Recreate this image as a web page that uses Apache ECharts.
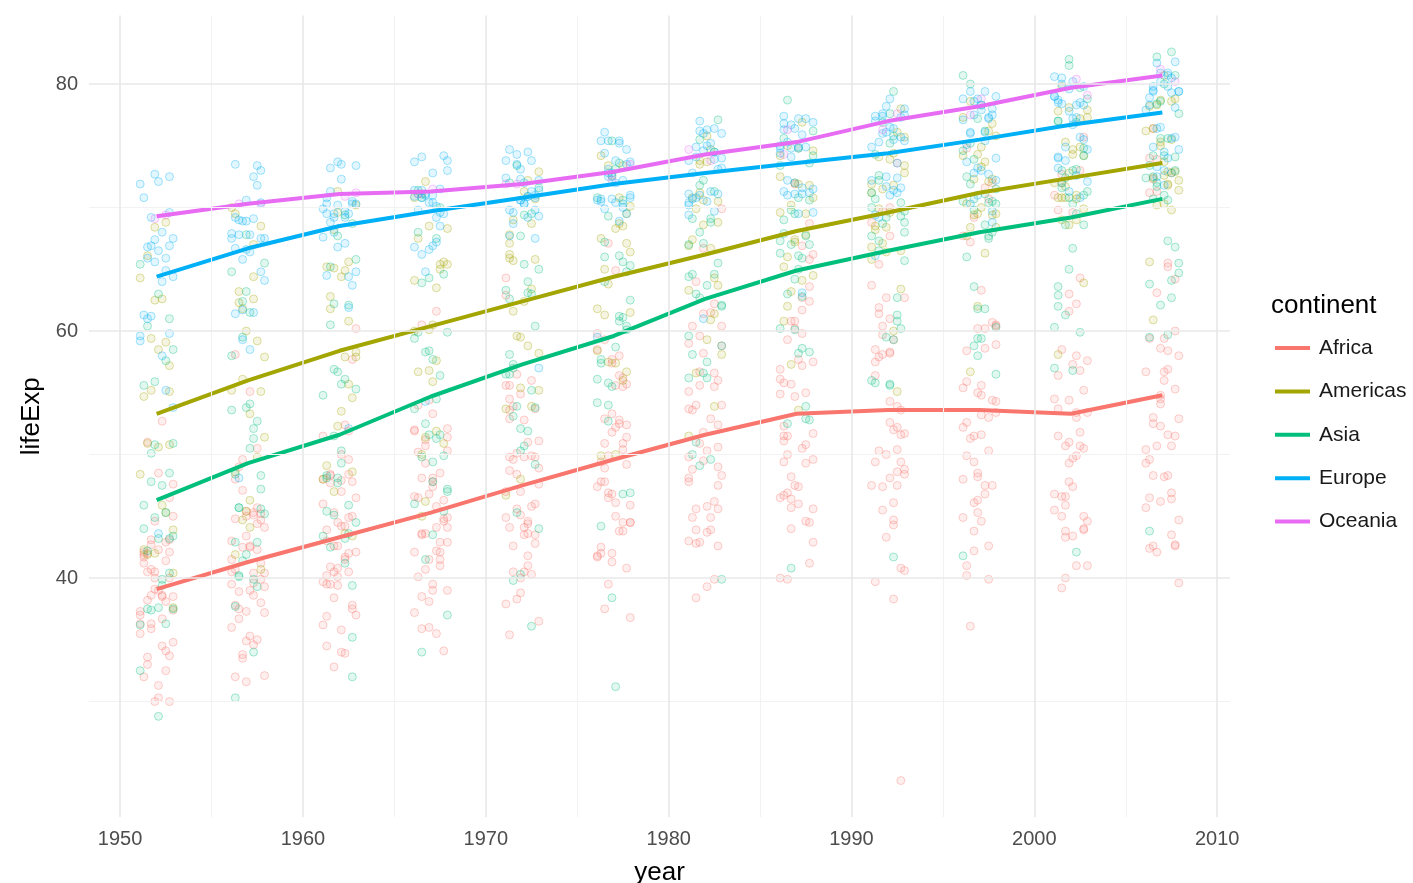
<!DOCTYPE html>
<html><head><meta charset="utf-8">
<script src="https://cdn.jsdelivr.net/npm/echarts@6/dist/echarts.min.js"></script>
<style>html,body{margin:0;padding:0;background:#fff}#chart{width:1413px;height:883px}</style>
</head><body><div id="chart"></div>
<script>
const years = [1952,1957,1962,1967,1972,1977,1982,1987,1992,1997,2002,2007];
const continents = ['Africa','Americas','Asia','Europe','Oceania'];
const xMajorTicks = [1950,1960,1970,1980,1990,2000,2010];
const xMinorTicks = [1955,1965,1975,1985,1995,2005];
const yMajorTicks = [40,60,80];
const yMinorTicks = [30,50,70];

// mean life expectancy per continent per year (lines)
const africaMean   = [39.1,41.3,43.3,45.3,47.5,49.6,51.6,53.3,53.6,53.6,53.3,54.8];
const americasMean = [53.3,56.0,58.4,60.4,62.4,64.4,66.2,68.1,69.6,71.2,72.4,73.6];
const asiaMean     = [46.3,49.3,51.6,54.7,57.3,59.6,62.6,64.9,66.5,68.0,69.2,70.7];
const europeMean   = [64.4,66.7,68.5,69.7,70.8,71.9,72.8,73.6,74.4,75.5,76.7,77.7];
const oceaniaMean  = [69.3,70.3,71.1,71.3,71.9,72.9,74.3,75.3,77.0,78.2,79.7,80.7];

// country life expectancy, one row per country, one column per year
const africaLife = [
[43.1,45.7,48.3,51.4,54.5,58.0,61.4,65.8,67.7,69.2,71.0,72.3],
[30.0,32.0,34.0,36.0,37.9,39.5,39.9,39.9,40.6,41.0,41.0,42.7],
[38.2,40.4,42.6,44.9,47.0,49.2,50.9,52.3,53.9,54.8,54.4,56.7],
[47.6,49.6,51.5,53.3,56.0,59.3,61.5,63.6,62.7,52.6,46.6,50.7],
[32.0,34.9,37.8,40.7,43.6,46.1,48.1,49.6,50.3,50.3,50.7,52.3],
[39.0,40.5,42.0,43.5,44.1,45.9,47.5,48.2,44.7,45.3,47.4,49.6],
[38.5,40.4,42.6,44.8,47.0,49.4,54.0,55.0,54.3,52.2,49.9,50.4],
[35.5,37.5,39.5,41.5,43.5,46.8,48.3,50.5,49.4,46.1,43.3,44.7],
[38.1,39.9,41.7,43.6,45.6,47.4,49.5,51.1,51.7,51.6,50.5,50.7],
[40.7,42.5,44.5,46.5,48.9,50.9,52.9,54.9,57.9,60.7,63.0,65.2],
[39.1,40.7,42.1,44.1,46.0,47.8,47.8,47.4,45.5,42.6,45.0,46.5],
[42.1,45.1,48.4,52.0,54.9,55.6,56.7,57.5,56.4,53.0,53.0,55.3],
[40.5,42.5,44.9,47.4,49.8,52.4,54.0,54.7,52.0,48.0,46.8,48.3],
[34.8,37.3,39.7,42.1,44.4,46.5,48.8,50.0,51.6,53.2,53.4,54.8],
[41.9,44.4,47.0,49.3,51.1,53.3,56.0,59.8,63.7,67.2,69.8,71.3],
[34.5,36.0,37.5,39.0,40.5,42.0,43.7,45.7,47.5,48.2,49.3,51.6],
[35.9,38.0,40.2,42.2,44.1,44.5,43.9,46.5,50.0,53.4,55.2,58.0],
[34.1,36.7,40.1,42.1,43.5,44.5,44.9,46.7,48.1,49.4,50.7,53.0],
[37.0,39.0,40.5,44.6,48.7,52.8,56.6,60.2,61.4,60.5,56.8,56.7],
[30.0,32.1,33.9,35.9,38.3,41.8,45.6,49.3,52.6,55.9,58.0,59.4],
[43.1,44.8,46.5,48.1,49.9,51.8,53.7,55.7,57.5,58.6,58.5,60.0],
[33.6,34.6,35.8,37.2,38.8,40.8,42.9,45.6,48.6,51.5,53.7,56.0],
[32.5,33.5,34.5,35.5,36.5,37.5,39.3,41.2,43.3,44.9,45.5,46.4],
[42.3,44.7,48.0,50.7,53.6,56.2,58.8,59.3,59.3,54.4,51.0,54.1],
[42.1,45.0,47.7,48.5,49.8,52.2,55.1,57.2,59.7,55.6,44.6,42.6],
[38.5,39.5,40.5,41.5,42.6,43.8,44.9,46.0,40.8,42.2,43.8,45.7],
[42.7,45.3,47.8,50.2,52.8,57.4,62.2,66.2,68.8,71.6,72.7,74.0],
[36.7,38.9,40.8,42.9,44.9,46.9,49.0,49.4,52.2,55.0,57.3,59.4],
[36.3,37.2,38.4,39.5,41.8,43.8,45.6,47.5,49.4,47.5,45.0,48.3],
[33.7,35.3,36.9,38.5,40.0,41.7,43.9,46.4,48.4,49.9,51.8,54.5],
[40.5,42.3,44.2,46.3,48.4,50.9,53.6,56.1,58.3,60.4,62.2,64.2],
[51.0,58.1,60.2,61.6,62.9,64.9,66.7,68.7,69.7,70.7,72.0,72.8],
[42.9,45.4,47.9,50.3,52.9,55.7,59.6,62.7,65.4,67.7,69.6,71.2],
[31.3,33.8,36.2,38.1,40.3,42.5,42.8,42.9,44.3,46.3,44.0,42.1],
[41.7,45.2,48.4,51.2,53.9,56.4,59.0,60.8,61.0,58.9,51.5,52.9],
[37.4,38.6,39.5,40.1,40.5,41.3,42.6,44.6,47.4,51.3,54.5,56.9],
[36.3,37.8,39.4,41.0,42.8,44.5,45.8,46.9,47.5,47.5,46.6,46.9],
[52.7,55.1,57.7,60.5,64.3,67.1,69.9,71.9,73.6,74.8,75.7,76.4],
[40.0,41.5,43.0,44.1,44.6,45.0,46.2,44.0,23.6,36.1,43.4,46.2],
[46.5,49.0,51.9,54.4,56.5,58.5,60.4,61.7,62.7,63.3,64.3,65.5],
[37.3,39.3,41.5,43.6,45.8,48.9,52.4,55.8,58.2,60.2,61.6,63.1],
[30.3,31.6,32.8,34.1,35.4,36.8,38.4,40.0,38.3,39.9,41.0,42.6],
[33.0,35.0,37.0,39.0,41.0,42.0,43.0,44.5,39.7,43.8,45.9,48.2],
[45.0,48.0,50.0,51.9,53.7,55.5,58.2,60.8,61.9,60.2,53.4,49.3],
[38.6,39.6,40.9,42.9,45.1,47.8,50.3,51.7,53.6,55.4,56.4,58.6],
[41.4,43.4,45.0,46.6,49.6,52.5,55.6,57.7,58.5,54.3,43.9,39.6],
[41.2,43.0,44.2,45.8,47.6,49.9,50.6,51.5,50.4,48.5,49.7,52.5],
[38.6,41.2,43.9,46.8,49.8,52.9,55.5,56.9,58.1,58.4,57.6,58.4],
[44.6,47.1,49.6,52.1,55.6,59.8,64.0,66.9,70.0,72.0,73.0,73.9],
[40.0,42.6,45.3,48.1,51.0,50.4,49.8,51.5,48.8,44.6,47.8,51.5],
[42.0,44.1,46.0,47.8,50.1,51.4,51.8,50.8,46.1,40.2,39.2,42.4],
[48.5,50.5,52.4,54.0,55.6,57.7,60.4,62.4,60.4,46.8,40.0,43.5]
];
const americasLife = [
[62.5,64.4,65.1,65.6,67.1,68.5,69.9,70.8,71.9,73.3,74.3,75.3],
[40.4,41.9,43.4,45.0,46.7,50.0,53.9,57.3,60.0,62.0,63.9,65.6],
[50.9,53.3,55.7,57.6,59.5,61.5,63.3,65.2,67.1,69.4,71.0,72.4],
[68.8,70.0,71.3,72.1,72.9,74.2,75.8,76.9,78.0,78.6,79.8,80.7],
[54.7,56.1,57.9,60.5,63.4,67.1,70.6,72.5,74.1,75.8,77.9,78.6],
[50.6,55.1,57.9,60.0,61.6,63.8,66.7,67.8,68.4,70.3,71.7,72.9],
[57.2,60.0,62.8,65.4,67.8,70.8,73.5,74.8,75.7,77.3,78.1,78.8],
[59.4,62.3,65.2,68.3,70.7,72.6,73.7,74.2,74.4,76.2,77.2,78.3],
[45.9,49.8,53.5,56.8,59.6,61.8,63.7,66.0,68.5,70.0,70.8,72.2],
[48.4,51.4,54.6,56.7,58.8,61.3,64.3,67.2,69.6,72.3,74.2,75.0],
[45.3,48.6,52.3,55.9,58.2,56.7,56.6,63.2,66.8,69.5,70.7,71.9],
[42.0,44.1,47.0,50.0,53.7,56.0,58.1,60.8,63.4,66.3,69.0,70.3],
[37.6,40.7,43.6,46.2,48.0,49.9,51.5,53.6,55.1,56.7,58.1,60.9],
[41.9,44.7,48.0,50.9,53.9,57.4,60.9,64.5,66.4,67.7,68.6,70.2],
[58.5,62.6,65.6,67.5,69.0,70.1,71.2,71.8,71.8,72.3,72.0,72.6],
[50.8,55.2,58.3,60.1,62.4,65.0,67.4,69.5,71.5,73.7,74.9,76.2],
[42.3,45.4,48.6,51.9,55.2,57.5,59.3,62.0,65.8,68.4,70.8,72.9],
[55.2,59.2,61.8,64.1,66.2,68.7,70.5,72.0,73.4,74.3,74.7,75.5],
[62.6,63.2,64.4,65.0,65.8,66.4,66.9,67.4,68.2,69.4,70.8,71.8],
[43.9,46.3,49.1,51.4,55.4,58.4,61.4,64.1,66.5,68.4,69.9,71.4],
[64.3,68.5,69.6,71.1,72.2,73.4,73.8,74.6,73.9,74.9,77.8,78.7],
[59.1,61.8,64.9,65.4,65.9,68.3,68.8,69.6,69.9,69.5,69.0,69.8],
[68.4,69.5,70.2,70.8,71.3,73.4,74.7,75.0,76.1,76.8,77.3,78.2],
[66.1,67.0,68.2,68.5,68.7,69.5,70.8,71.9,72.8,74.2,75.3,76.4],
[55.1,57.9,60.8,63.5,65.7,67.5,68.6,70.2,71.2,72.1,72.8,73.7]
];
const asiaLife = [
[28.8,30.3,32.0,34.0,36.1,38.4,39.9,40.8,41.7,41.8,42.1,43.8],
[50.9,53.8,56.9,59.9,63.3,65.6,69.1,70.8,72.6,73.9,74.8,75.6],
[37.5,39.3,41.2,43.5,45.3,46.9,50.0,52.8,56.0,59.4,62.0,64.1],
[39.4,41.4,43.4,45.4,40.3,31.2,51.0,53.9,55.8,56.5,56.8,59.7],
[44.0,50.5,44.5,58.4,63.1,64.0,65.5,67.3,68.7,70.4,72.0,73.0],
[61.0,64.8,67.7,70.0,72.0,73.6,75.5,76.2,77.6,80.0,81.5,82.2],
[37.4,40.2,43.6,47.2,50.7,54.2,56.6,58.6,60.2,61.8,62.9,64.7],
[37.5,39.9,42.5,46.0,49.2,52.7,56.2,60.1,62.7,66.0,68.6,70.7],
[44.9,47.2,49.3,52.5,55.2,57.7,59.6,63.0,65.7,68.0,69.5,71.0],
[45.3,48.4,51.5,54.5,57.0,60.4,62.0,65.0,59.5,58.8,57.0,59.5],
[65.4,67.8,69.4,70.8,71.6,73.1,74.5,75.6,76.9,78.3,79.7,80.7],
[63.0,65.5,68.7,71.4,73.4,75.4,77.1,78.7,79.4,80.7,82.0,82.6],
[43.2,45.7,48.1,51.6,56.5,61.1,63.7,65.9,68.0,69.8,71.3,72.5],
[50.1,54.1,56.7,59.9,64.0,67.2,69.1,70.6,70.0,67.7,66.7,67.3],
[47.5,52.7,55.3,57.7,62.6,64.8,67.1,69.8,72.2,74.6,77.0,78.6],
[55.6,58.0,60.5,64.6,67.7,69.3,71.3,74.2,75.2,76.2,76.9,77.6],
[55.9,59.5,62.1,63.9,65.4,66.1,67.0,67.9,69.3,70.3,71.0,72.0],
[48.5,52.1,55.7,59.4,63.0,65.3,68.0,69.5,70.7,71.9,73.0,74.2],
[42.2,45.2,48.3,51.3,53.8,55.5,57.5,60.2,61.3,63.6,65.0,66.8],
[36.3,41.9,45.1,49.4,53.1,56.1,58.1,58.3,59.3,60.3,59.9,62.1],
[36.2,37.7,39.4,41.5,44.0,46.8,49.6,52.5,55.7,59.4,61.3,63.8],
[37.6,40.1,43.2,47.0,52.1,57.4,62.7,67.7,71.2,72.5,74.2,75.6],
[43.4,45.6,47.7,49.8,51.9,54.0,56.2,58.2,60.8,61.8,63.6,65.5],
[47.8,51.3,54.8,56.4,58.1,60.1,62.1,64.2,66.5,68.6,70.3,71.7],
[39.9,42.9,45.9,49.9,53.9,58.7,63.0,66.3,68.8,70.5,71.6,72.8],
[60.4,63.2,65.8,68.0,69.5,70.8,71.8,73.6,75.8,77.2,78.8,80.0],
[57.6,61.5,62.2,64.3,65.0,66.0,68.8,69.0,70.4,70.5,70.8,72.4],
[45.9,48.3,50.3,53.7,57.3,61.2,64.6,67.0,69.2,71.5,73.1,74.1],
[58.5,62.4,65.2,67.5,69.4,70.6,72.2,73.4,74.3,75.2,77.0,78.4],
[50.8,53.6,56.1,58.3,60.4,62.5,64.6,66.1,67.3,67.5,68.6,70.6],
[40.4,42.9,45.4,47.8,50.3,55.8,58.8,62.8,67.7,70.7,73.0,74.2],
[43.2,45.7,48.1,51.6,56.5,60.8,64.4,67.0,69.7,71.1,72.4,73.4],
[32.5,34.0,35.2,37.0,39.8,44.2,49.1,52.9,55.6,58.0,60.3,62.7]
];
const europeLife = [
[55.2,59.3,64.8,66.2,67.7,68.9,70.4,72.0,71.6,73.0,75.7,76.4],
[66.8,67.5,69.5,70.1,70.6,72.2,73.2,74.9,76.0,77.5,79.0,79.8],
[68.0,69.2,70.2,70.9,71.4,72.8,73.9,75.3,76.5,77.5,78.3,79.4],
[53.8,58.5,61.9,64.8,67.5,69.9,70.7,71.1,72.2,73.2,74.1,74.9],
[59.6,66.6,69.5,70.4,70.9,70.8,71.1,71.3,71.2,70.3,72.1,73.0],
[61.2,64.8,67.1,68.5,69.6,70.6,70.5,71.5,72.5,73.7,74.9,75.7],
[66.9,69.0,69.9,70.4,70.3,70.7,71.0,71.6,72.4,74.0,75.5,76.5],
[70.8,71.8,72.3,73.0,73.5,74.7,74.6,74.8,75.3,76.1,77.2,78.3],
[66.5,67.5,68.8,69.8,70.9,72.5,74.5,74.8,75.7,77.1,78.4,79.3],
[67.4,68.9,70.5,71.5,72.4,73.8,74.9,76.3,77.5,78.6,79.6,80.7],
[67.5,69.1,70.3,70.8,71.0,72.5,73.8,74.8,76.1,77.3,78.7,79.4],
[65.9,67.9,69.5,71.0,72.3,73.7,75.2,76.7,77.0,77.9,78.3,79.5],
[64.0,66.4,68.0,69.5,69.8,70.0,69.4,69.6,69.2,71.0,72.6,73.3],
[72.5,73.5,73.7,73.7,74.5,76.1,77.0,77.2,78.8,79.0,80.5,81.8],
[66.9,68.9,70.3,71.1,71.3,72.0,73.1,74.4,75.5,76.1,77.8,78.9],
[65.9,67.8,69.2,71.1,72.2,73.5,75.0,76.4,77.4,78.8,80.2,80.5],
[59.2,61.4,63.7,67.2,70.6,73.1,74.1,74.9,75.4,75.4,74.0,74.5],
[72.1,73.0,73.2,73.8,73.8,75.2,76.0,76.8,77.4,78.0,78.5,79.8],
[72.7,73.4,73.5,74.1,74.3,75.4,76.0,75.9,77.3,78.3,79.0,80.2],
[61.3,65.8,67.6,69.6,70.8,70.7,71.3,71.0,71.0,72.8,74.7,75.6],
[59.8,61.5,64.4,66.6,69.3,70.4,72.8,74.1,74.9,76.0,77.3,78.1],
[61.0,64.1,66.8,66.8,69.2,69.5,69.7,69.5,69.4,69.7,71.3,72.5],
[58.0,61.7,64.5,66.9,68.7,70.3,70.2,71.2,71.7,72.2,73.2,74.0],
[64.4,67.5,70.3,71.0,70.3,70.5,70.8,71.1,71.4,72.7,73.8,74.7],
[65.6,67.8,69.2,69.2,69.8,71.0,71.1,72.2,73.6,75.1,76.7,77.9],
[64.9,66.7,69.7,71.4,73.1,74.4,76.3,76.9,77.6,78.8,79.8,80.9],
[71.9,72.5,73.4,74.2,74.7,75.4,76.4,77.2,78.2,79.4,80.0,80.9],
[69.6,70.6,71.3,72.8,73.8,75.4,76.2,77.4,78.0,79.4,80.6,81.7],
[43.6,48.1,52.1,54.3,57.0,59.5,61.0,63.1,66.1,68.8,70.8,71.8],
[69.2,70.4,70.8,71.4,72.0,72.8,74.0,75.0,76.4,77.2,78.5,79.4]
];
const oceaniaLife = [
[69.1,70.3,70.9,71.1,71.9,73.5,74.7,76.3,77.6,78.8,80.4,81.2],
[69.4,70.3,71.2,71.5,71.9,72.2,73.8,74.3,76.3,77.5,79.1,80.2]
];

// horizontal jitter read per point: digit 0..9 across the jitter band
const africaJitter = ["372916485302","815403729168","264908317545","930572684123","148365092774","507219836451","693841275060","021754968339","786230419587","354197602846","419682053721","862045391768","237518946002","940763128594","175394860213","608921537446","381657204989","724089615332","053816742970","496230875161","819574031628","265048397315","731692584007","580317926844","142785063592","907426158330","368154790621","624903817455","093567241886","851240639174","476832105968","219605483727","745918362051","530471296483","187326045919","962154873206","314789520637","658203947182","401965738254","827430169576","096372815443","543819206798","279564081335","915087432660","362741598014","748026351989","105693827452","681452703196","437910265873","853267019548","290538476121","576104983637"];
const americasJitter = ["463817290554","918205736481","257649013862","704391568225","136578402997","589023674136","842716359048","321984506773","675430821519","098162745384","714598230966","453207918625","986341057212","230875694143","567129386805","809452173670","148693520938","372016849457","625789041326","951340768289","084267395514","736915802467","419053627891","263478159032","897621430745"];
const asiaJitter = ["518274936061","943107652384","276539180417","630845271956","159462803728","804716395243","327950468619","962083547132","485371029865","713628954301","046295713578","598134826047","821407569392","354962180756","679518432014","102843795669","437256018983","865079341225","291684507348","743520186974","018397625531","526941370186","984263057419","360718942653","617835209027","249170386495","753492618840","185026734968","932657401213","406389152786","871543960352","524716089631","068921375407"];
const europeJitter = ["739216048573","281647953306","614093725869","957382160412","043569817295","386720594138","820451367984","175938402651","592164738027","438705219346","961283054719","207549631582","653817092463","814062375928","349175806241","726398541057","018643279615","582906413872","475231968504","130784625397","867495130268","294068751843","631527084916","908351246739","453689027150","716042593484","069813754226","842576319603","527390461875","381254906712"];
const oceaniaJitter = ["486139027564","729504613298"];

const colors = ['#F8766D','#A3A500','#00BF7D','#00B0F6','#E76BF3'];
const FONT = '"Liberation Sans", Arial, sans-serif';

function rgba(hex, a) {
  const n = parseInt(hex.slice(1), 16);
  return 'rgba(' + ((n >> 16) & 255) + ',' + ((n >> 8) & 255) + ',' + (n & 255) + ',' + a + ')';
}
function buildPoints(rows, jit) {
  const pts = [];
  rows.forEach((row, i) => {
    const s = jit[i] || '';
    row.forEach((v, k) => {
      const d = k < s.length ? Number(s[k]) : 4.5;
      pts.push([years[k] + (d - 4.5) * 0.2, v]);
    });
  });
  return pts;
}

const lifeSets = [africaLife, americasLife, asiaLife, europeLife, oceaniaLife];
const jitterSets = [africaJitter, americasJitter, asiaJitter, europeJitter, oceaniaJitter];
const meanSets = [africaMean, americasMean, asiaMean, europeMean, oceaniaMean];

const majorStyle = { color: '#E8E8E8', width: 1.6, type: 'solid' };
const minorStyle = { color: '#F2F2F2', width: 1.1, type: 'solid' };

const gridSeries = {
  type: 'line', data: [], silent: true, z: 0,
  markLine: {
    silent: true, symbol: ['none', 'none'], label: { show: false }, animation: false,
    lineStyle: { type: 'solid' },
    emphasis: { disabled: true },
    data: [
      ...xMinorTicks.map(v => ({ xAxis: v, lineStyle: minorStyle })),
      ...yMinorTicks.map(v => ({ yAxis: v, lineStyle: minorStyle })),
      ...xMajorTicks.map(v => ({ xAxis: v, lineStyle: majorStyle })),
      ...yMajorTicks.map(v => ({ yAxis: v, lineStyle: majorStyle }))
    ]
  }
};

const scatterSeries = continents.map((c, i) => ({
  name: c + ' points', type: 'scatter', z: 2, silent: true,
  symbol: 'circle', symbolSize: 8,
  itemStyle: { color: rgba(colors[i], 0.15), borderColor: rgba(colors[i], 0.42), borderWidth: 1 },
  data: buildPoints(lifeSets[i], jitterSets[i])
}));

const lineSeries = continents.map((c, i) => ({
  name: c, type: 'line', z: 3, symbol: 'none', smooth: false,
  color: colors[i],
  lineStyle: { color: colors[i], width: 4 },
  data: years.map((y, k) => [y, meanSets[i][k]])
}));

const chart = echarts.init(document.getElementById('chart'), null, { renderer: 'canvas' });
chart.setOption({
  animation: false,
  backgroundColor: '#ffffff',
  textStyle: { fontFamily: FONT },
  grid: { left: 89, right: 183, top: 15.5, bottom: 66, containLabel: false, outerBoundsMode: 'none' },
  xAxis: {
    type: 'value', min: 1948.3, max: 2010.7,
    name: 'year', nameLocation: 'middle', nameGap: 43,
    nameTextStyle: { fontSize: 26, color: '#000', fontFamily: FONT },
    axisLine: { show: false }, axisTick: { show: false }, splitLine: { show: false },
    axisLabel: { customValues: xMajorTicks, formatter: v => String(v), fontSize: 20, color: '#4D4D4D', margin: 12, fontFamily: FONT }
  },
  yAxis: {
    type: 'value', min: 20.65, max: 85.55,
    name: 'lifeExp', nameLocation: 'middle', nameRotate: 90, nameGap: 42,
    nameTextStyle: { fontSize: 26, color: '#000', fontFamily: FONT },
    axisLine: { show: false }, axisTick: { show: false }, splitLine: { show: false },
    axisLabel: { customValues: yMajorTicks, formatter: v => String(v), fontSize: 20, color: '#4D4D4D', margin: 11, fontFamily: FONT }
  },
  legend: {
    orient: 'vertical', left: 1270, top: 332,
    data: continents.map(c => ({ name: c, icon: 'rect' })),
    itemWidth: 35, itemHeight: 4, itemGap: 21.4,
    selectedMode: false,
    textStyle: { fontSize: 21, color: '#1a1a1a', lineHeight: 22, fontFamily: FONT, padding: [0, 0, 0, 4] }
  },
  graphic: [{
    type: 'text', left: 1271, top: 293,
    style: { text: 'continent', fontSize: 26, fill: '#000', fontFamily: FONT }
  }],
  series: [gridSeries, ...scatterSeries, ...lineSeries]
});
</script>
</body></html>
